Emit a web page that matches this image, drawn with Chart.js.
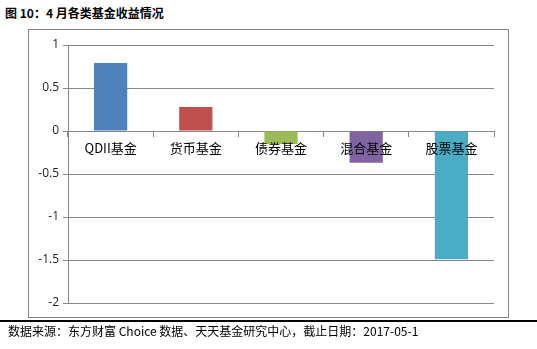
<!DOCTYPE html>
<html>
<head>
<meta charset="utf-8">
<script src="https://cdn.jsdelivr.net/npm/chart.js@4/dist/chart.umd.min.js"></script>
<style>
  html, body { margin: 0; padding: 0; background: #fff; }
  #page { position: relative; width: 537px; height: 349px; overflow: hidden; background: #fff; }
  #title { position: absolute; left: 5px; top: 4px; font: bold 12px "Noto Sans CJK SC", sans-serif; color: #000; white-space: nowrap; }
  #frame { position: absolute; left: 28px; top: 29px; width: 479px; height: 287px; border: 1px solid #868686; }
  #wrap { position: absolute; left: 0; top: 0; width: 537px; height: 349px; }
  #rule { position: absolute; left: 0; top: 320px; width: 537px; height: 2px; background: #000; }
  #source { position: absolute; left: 8px; top: 322px; font: 12px "Noto Sans CJK SC", sans-serif; color: #000; white-space: nowrap; }
</style>
</head>
<body>
<div id="page">
  <div id="title">图 10：4 月各类基金收益情况</div>
  <div id="frame"></div>
  <div id="wrap"><canvas id="chart" width="537" height="349"></canvas></div>
  <div id="rule"></div>
  <div id="source">数据来源：东方财富 Choice 数据、天天基金研究中心，截止日期：2017-05-1</div>
</div>
<script>
// Fund categories and their April returns
const categories = ['QDII基金', '货币基金', '债券基金', '混合基金', '股票基金'];
const returns = [0.79, 0.28, -0.15, -0.37, -1.49];
const barColors = ['#4F81BD', '#C0504D', '#9BBB59', '#8064A2', '#4BACC6'];
const yMin = -2, yMax = 1, yStep = 0.5;

new Chart(document.getElementById('chart'), {
  type: 'bar',
  data: {
    labels: categories,
    datasets: [{
      data: returns,
      backgroundColor: barColors,
      borderWidth: 0,
      categoryPercentage: 1,
      barPercentage: 0.39
    }]
  },
  options: {
    responsive: false,
    animation: false,
    events: [],
    layout: { padding: { left: 0, top: 45, right: 43, bottom: 46 } },
    plugins: { legend: { display: false }, tooltip: { enabled: false }, title: { display: false } },
    scales: {
      x: {
        type: 'category',
        position: { y: 0 },
        offset: true,
        grid: { display: true, drawOnChartArea: false, drawTicks: true, tickLength: 5, color: '#868686', offset: true },
        border: { display: true, color: '#868686' },
        // category names sit across the zero line, drawn over the bars
        ticks: { z: 1, color: '#000', padding: 4, font: { family: '"Noto Sans CJK SC", sans-serif', size: 13 }, maxRotation: 0, autoSkip: false }
      },
      y: {
        min: yMin,
        max: yMax,
        afterFit: (scale) => { scale.width = 68; },
        grid: { color: '#868686', drawTicks: true, tickLength: 5 },
        border: { display: true, color: '#868686' },
        ticks: {
          stepSize: yStep,
          padding: 4,
          color: '#222',
          font: { family: '"Open Sans", sans-serif', size: 12 },
          callback: (v) => String(Math.round(v * 10) / 10)
        }
      }
    }
  }
});
</script>
</body>
</html>
